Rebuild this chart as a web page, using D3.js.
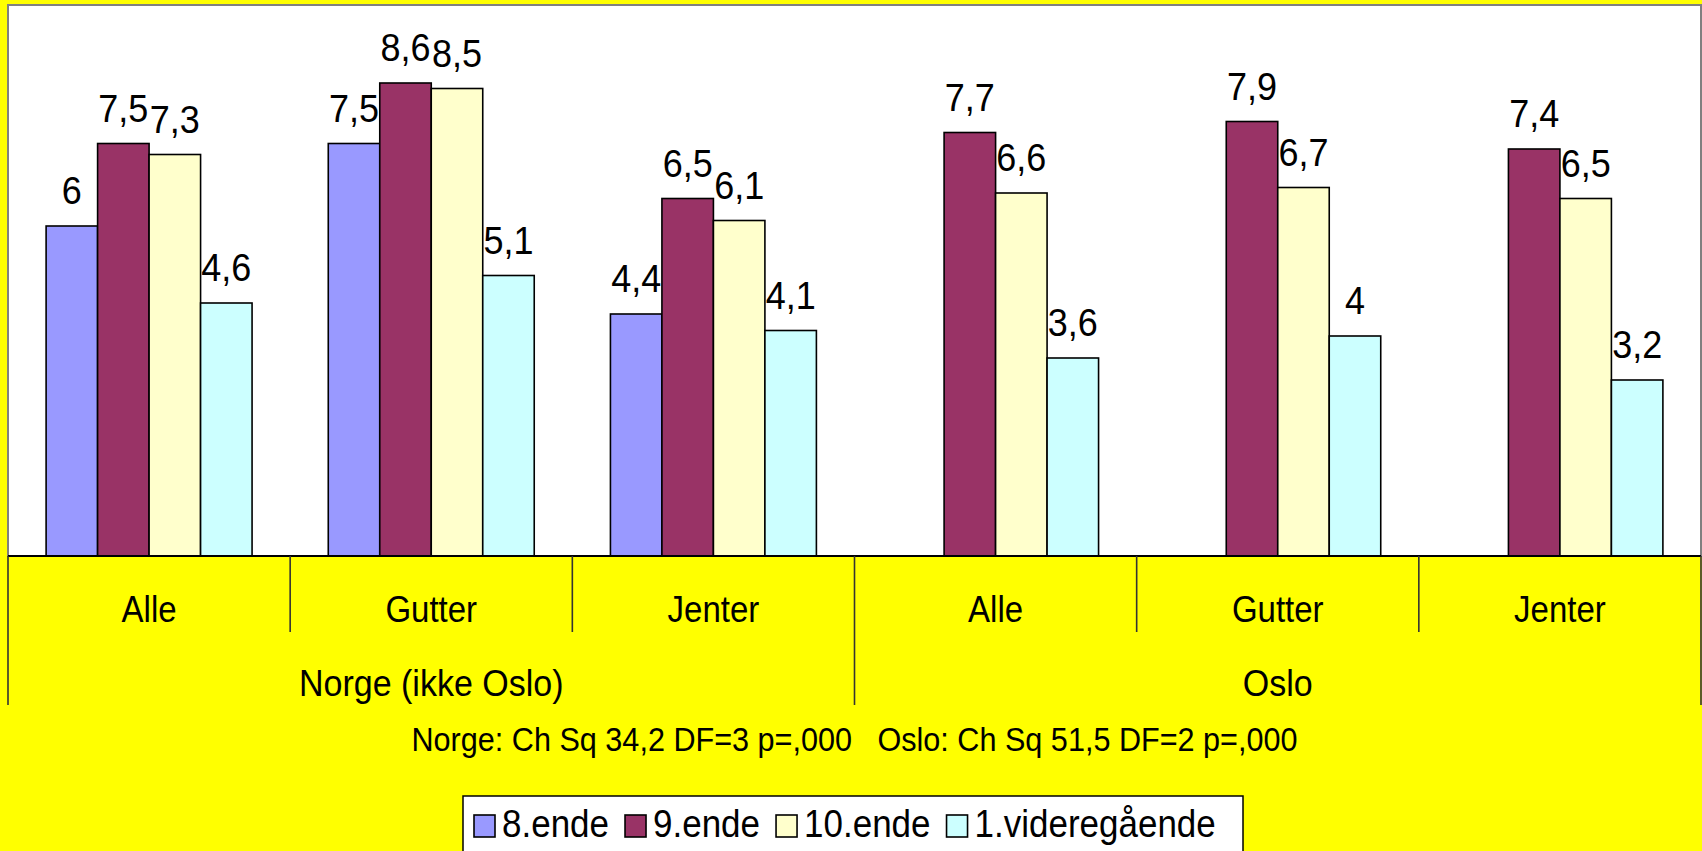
<!DOCTYPE html>
<html>
<head>
<meta charset="utf-8">
<script src="https://cdn.jsdelivr.net/npm/d3@7"></script>
<style>
  body { margin: 0; background: #ffff00; }
  svg { display: block; font-family: "Liberation Sans", Arial, sans-serif; }
</style>
</head>
<body>
<script>
// chart data
const categories = ["Alle", "Gutter", "Jenter", "Alle", "Gutter", "Jenter"];
const groups = ["Norge (ikke Oslo)", "Oslo"];
const groupSize = [3, 3];
const series = ["8.ende", "9.ende", "10.ende", "1.videregående"];
const colors = ["#9999ff", "#993366", "#ffffcc", "#ccffff"];
const values8 = [6, 7.5, 4.4, null, null, null];
const values9 = [7.5, 8.6, 6.5, 7.7, 7.9, 7.4];
const values10 = [7.3, 8.5, 6.1, 6.6, 6.7, 6.5];
const valuesVg = [4.6, 5.1, 4.1, 3.6, 4, 3.2];
const statText = "Norge: Ch Sq 34,2 DF=3 p=,000\u00a0\u00a0\u00a0Oslo: Ch Sq 51,5 DF=2 p=,000";

const W = 1702, H = 851;
const plot = {left: 8, top: 5, right: 1701, bottom: 556};
const stretch = 1.1; // text in the original is a bit taller than wide

const svg = d3.select("body").append("svg").attr("width", W).attr("height", H);

svg.append("rect").attr("width", W).attr("height", H).attr("fill", "#ffff00");

const x0 = d3.scaleBand().domain(d3.range(categories.length)).range([plot.left, plot.right]).padding(0);
const x1 = d3.scaleBand().domain(series).range([0, x0.bandwidth()]).paddingInner(0).paddingOuter(0.74);
const y = d3.scaleLinear().domain([0, 10]).range([plot.bottom, plot.top + 1]);

function place(sel, fx, fy) {
  return sel.attr("transform", (d, i) => "translate(" + fx(d, i) + "," + fy(d, i) + ") scale(1," + stretch + ")");
}

// plot area
svg.append("rect")
  .attr("x", plot.left).attr("y", plot.top)
  .attr("width", plot.right - plot.left).attr("height", plot.bottom - plot.top)
  .attr("fill", "#ffffff").attr("stroke", "#808080").attr("stroke-width", 2);

const allValues = [values8, values9, values10, valuesVg];
let bars = [];
categories.forEach(function(c, i) {
  series.forEach(function(s, j) {
    if (allValues[j][i] != null)
      bars.push({cat: i, s: s, idx: j, v: allValues[j][i]});
  });
});

const fmt = v => String(v).replace(".", ",");

svg.selectAll("rect.bar")
  .data(bars)
  .enter().append("rect").attr("class", "bar")
  .attr("x", d => x0(d.cat) + x1(d.s))
  .attr("y", d => y(d.v))
  .attr("width", x1.bandwidth())
  .attr("height", d => y(0) - y(d.v))
  .attr("fill", d => colors[d.idx])
  .attr("stroke", "#000").attr("stroke-width", 1.6);

place(svg.selectAll("text.val")
  .data(bars)
  .enter().append("text").attr("class", "val"),
  d => x0(d.cat) + x1(d.s) + x1.bandwidth() / 2,
  d => y(d.v) - 22)
  .attr("text-anchor", "middle")
  .attr("font-size", 36)
  .text(d => fmt(d.v));

// axis line
svg.append("line")
  .attr("x1", plot.left).attr("x2", plot.right)
  .attr("y1", plot.bottom).attr("y2", plot.bottom)
  .attr("stroke", "#000").attr("stroke-width", 2);

// category ticks (short) and group separators (long)
let groupEdges = [0];
groupSize.forEach(n => groupEdges.push(groupEdges[groupEdges.length - 1] + n));
for (let i = 0; i <= categories.length; i++) {
  let xx = i < categories.length ? x0(i) : plot.right;
  let long = groupEdges.indexOf(i) >= 0;
  svg.append("line")
    .attr("x1", xx).attr("x2", xx)
    .attr("y1", plot.bottom).attr("y2", long ? 705 : 632)
    .attr("stroke", "#333").attr("stroke-width", 1.6);
}

place(svg.selectAll("text.cat")
  .data(categories)
  .enter().append("text").attr("class", "cat"),
  (d, i) => x0(i) + x0.bandwidth() / 2,
  () => 622)
  .attr("text-anchor", "middle")
  .attr("font-size", 33)
  .text(d => d);

place(svg.selectAll("text.grp")
  .data(groups)
  .enter().append("text").attr("class", "grp"),
  (d, i) => (x0(groupEdges[i]) + x0(groupEdges[i + 1] - 1) + x0.bandwidth()) / 2,
  () => 696)
  .attr("text-anchor", "middle")
  .attr("font-size", 34)
  .text(d => d);

place(svg.selectAll("text.stat").data([statText]).enter().append("text").attr("class", "stat"),
  () => (plot.left + plot.right) / 2,
  () => 751)
  .attr("text-anchor", "middle")
  .attr("font-size", 30.6)
  .text(d => d);

// legend
const legend = svg.append("g");
legend.append("rect").attr("class", "lbox")
  .attr("x", 463).attr("y", 796).attr("width", 780).attr("height", 70)
  .attr("fill", "#fff").attr("stroke", "#000").attr("stroke-width", 1.5);
let lx = 474;
series.forEach(function(s, j) {
  legend.append("rect")
    .attr("x", lx).attr("y", 815).attr("width", 21).attr("height", 22)
    .attr("fill", colors[j]).attr("stroke", "#000").attr("stroke-width", 1.6);
  let t = place(legend.append("text").datum(s), () => lx + 28, () => 837)
    .attr("font-size", 35)
    .text(s);
  lx += 28 + t.node().getComputedTextLength() + 16;
});
</script>
</body>
</html>
